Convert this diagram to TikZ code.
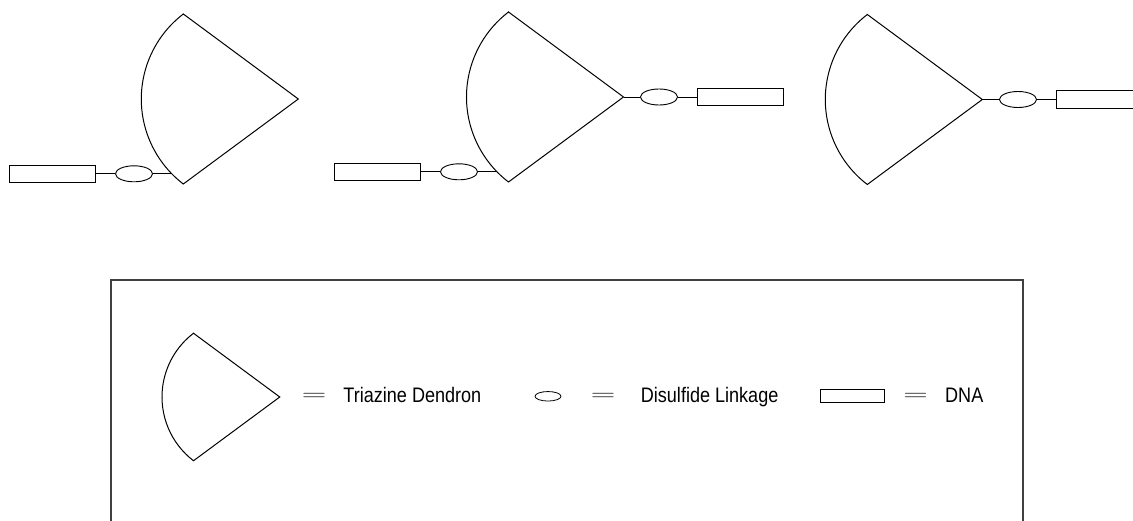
\documentclass[tikz,border=0pt]{standalone}
\usepackage{fontspec}
\newfontfamily\labelfont{Liberation Sans}
\usetikzlibrary{shapes.geometric}

\tikzset{
  outline/.style={draw=black, line width=0.9pt},
  dendline/.style={draw=black, line width=1pt, line join=miter},
  % triazine dendron: a fan whose chord runs vertically through the origin
  dendron/.pic={
    \draw[dendline] (0,-85) coordinate (-top) -- (115,0) coordinate (-tip)
      -- (0,85) coordinate (-bot)
      arc[start angle=127.4, end angle=232.6, radius=107] -- cycle;
    \coordinate (-port) at (-11.5,74.8);
  },
  link/.style={ellipse, outline, minimum width=37pt, minimum height=16pt, inner sep=0pt},
  dna/.style={rectangle, outline, minimum width=86pt, minimum height=17.5pt, inner sep=0pt},
  wire/.style={draw=black, line width=0.9pt},
  boxline/.style={draw=black!75, line width=1.2pt},
  lbl/.style={font=\labelfont\fontsize{21}{25}\selectfont, xscale=0.86, inner sep=0pt, anchor=base west},
  eqsign/.style={font=\fontsize{20}{24}\selectfont, xscale=1.7, inner sep=0pt, anchor=base},
}

\begin{document}
\begin{tikzpicture}[x=1pt, y=-1pt]
\useasboundingbox (0,0) rectangle (1133,521);
\clip (0,0) rectangle (1133,521);

% first construct: DNA -- linkage -- dendron
\pic (d1) at (183.3,99) {dendron};
\node[link] (e1) at (134,173.8) {};
\node[dna]  (r1) at (52.5,173.8) {};
\draw[wire] (r1.east) -- (e1.west) (e1.east) -- (d1-port);

% second construct: DNA on both sides of the dendron
\pic (d2) at (508.5,97) {dendron};
\node[link] (e2l) at (459,171.8) {};
\node[dna]  (r2l) at (377.3,171.8) {};
\node[link] (e2r) at (659,97) {};
\node[dna]  (r2r) at (740,97) {};
\draw[wire] (r2l.east) -- (e2l.west) (e2l.east) -- (d2-port);
\draw[wire] (d2-tip) -- (e2r.west) (e2r.east) -- (r2r.west);

% third construct: DNA at the dendron tip
\pic (d3) at (867.3,99.5) {dendron};
\node[link] (e3) at (1018,99.5) {};
\node[dna]  (r3) at (1099,99.5) {};
\draw[wire] (d3-tip) -- (e3.west) (e3.east) -- (r3.west);

% legend frame (open at the bottom)
\draw[boxline] (111,540) -- (111,280) -- (1023,280) -- (1023,540);

% legend entries
\pic[scale=0.75] (ld) at (193.5,397) {dendron};
\node[eqsign] (q1) at (314.2,400) {=};
\node[lbl] (t1) at (343.3,402.7) {Triazine Dendron};

\node[ellipse, draw=black, line width=0.8pt, minimum width=26pt, minimum height=9.5pt, inner sep=0pt] (le) at (548,396.3) {};
\node[eqsign] (q2) at (603.2,400) {=};
\node[lbl] (t2) at (640.7,402.7) {Disulfide Linkage};

\node[rectangle, draw=black, line width=0.8pt, minimum width=64.5pt, minimum height=13.3pt, inner sep=0pt] (lr) at (852.3,395.7) {};
\node[eqsign] (q3) at (915.5,400) {=};
\node[lbl] (t3) at (945,402.7) {DNA};
\end{tikzpicture}
\end{document}
